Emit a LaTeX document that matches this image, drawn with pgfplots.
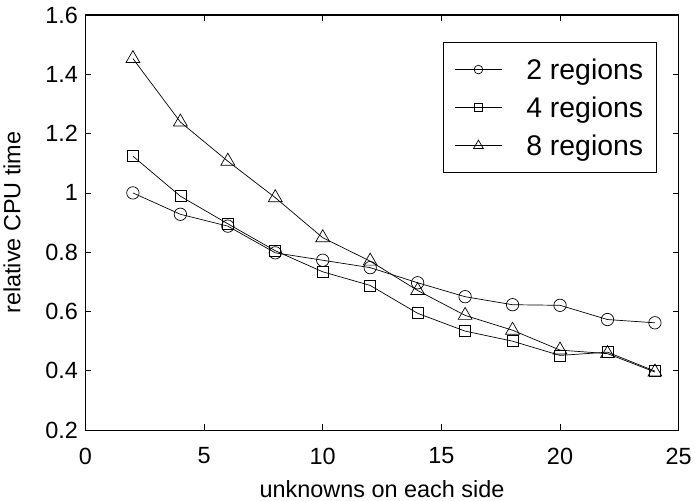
\documentclass[border=0pt]{standalone}
\usepackage{fontspec}
\setmainfont{Liberation Sans}
\usepackage{pgfplots}
\pgfplotsset{compat=1.18}
\begin{document}
\begin{tikzpicture}
\begin{axis}[
  scale only axis,
  width=593bp, height=415bp,
  xmin=0, xmax=25, ymin=0.2, ymax=1.6,
  xtick={0,5,10,15,20,25},
  ytick={0.2,0.4,0.6,0.8,1,1.2,1.4,1.6},
  yticklabels={0.2,0.4,0.6,0.8,1,1.2,1.4,1.6},
  tick align=inside,
  xtick pos=both, ytick pos=both,
  major tick length=6bp,
  /pgf/number format/assume math mode=true,
  tick label style={font=\fontsize{23.5}{26}\selectfont},
  label style={font=\fontsize{23.5}{26}\selectfont},
  xticklabel style={yshift=-14bp},
  yticklabel style={xshift=-4bp},
  xlabel={unknowns on each side},
  ylabel={relative CPU time},
  xlabel style={yshift=-9bp},
  ylabel style={yshift=18bp},
  axis line style={line width=1.3pt},
  every tick/.style={black, line width=0.8pt},
  legend style={at={(0.963,0.935)}, anchor=north east, draw=black, line width=1.1pt,
    font=\fontsize{28.5}{33}\selectfont, row sep=12bp, inner xsep=11bp, inner ysep=14bp},
  legend cell align=left,
  legend image code/.code={
    \draw[#1, line width=0.7pt] (0bp,0bp) -- (47bp,0bp);
    \draw[#1, line width=0.7pt, only marks, mark options={scale=0.7}] plot coordinates {(23.5bp,0bp)};
  },
]
\addplot[black, line width=0.7pt, mark=o, mark size=6.2bp, mark options={solid, line width=0.7pt}] coordinates {
(2,1.000) (4,0.928) (6,0.888) (8,0.798) (10,0.773) (12,0.748)
(14,0.697) (16,0.650) (18,0.623) (20,0.621) (22,0.573) (24,0.562)};
\addlegendentry{\hspace{22bp}2 regions}
\addplot[black, line width=0.7pt, mark=square, mark size=5.5bp, mark options={solid, line width=0.7pt}] coordinates {
(2,1.124) (4,0.989) (6,0.896) (8,0.805) (10,0.734) (12,0.688)
(14,0.594) (16,0.534) (18,0.500) (20,0.452) (22,0.463) (24,0.399)};
\addlegendentry{\hspace{22bp}4 regions}
\addplot[black, line width=0.7pt, mark=triangle, mark size=8bp, mark options={solid, line width=0.7pt}] coordinates {
(2,1.453) (4,1.239) (6,1.107) (8,0.984) (10,0.849) (12,0.770)
(14,0.671) (16,0.587) (18,0.537) (20,0.470) (22,0.458) (24,0.396)};
\addlegendentry{\hspace{22bp}8 regions}
\end{axis}
\path ([yshift=15bp]current axis.north);
\end{tikzpicture}
\end{document}
